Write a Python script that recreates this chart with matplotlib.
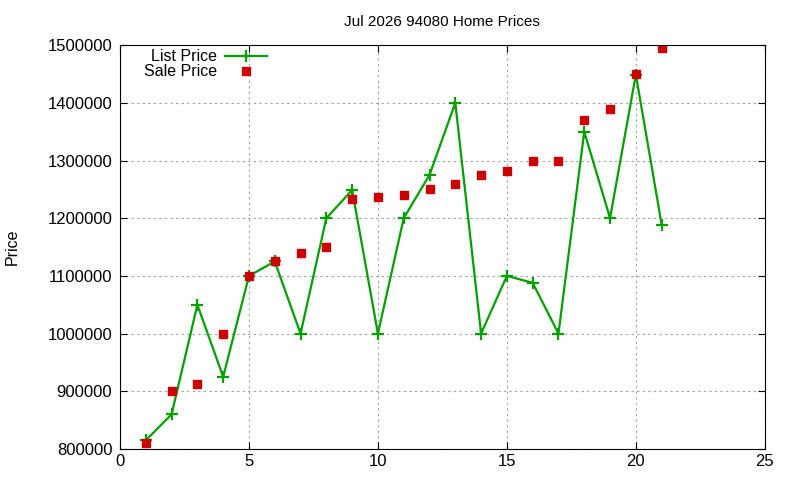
import numpy as np
import matplotlib
matplotlib.use('Agg')
import matplotlib.pyplot as plt

# months (index) and prices
idx = [1, 2, 3, 4, 5, 6, 7, 8, 9, 10, 11, 12, 13, 14, 15, 16, 17, 18, 19, 20, 21]
list_price = [815000, 860000, 1050000, 925000, 1100000, 1125000, 1000000, 1200000,
              1249000, 1000000, 1200000, 1275000, 1400000, 1000000, 1100000, 1088000,
              1000000, 1350000, 1200000, 1449000, 1189000]
sale_price = [810000, 900000, 912000, 1000000, 1100000, 1125000, 1140000, 1150000,
              1233000, 1237000, 1240000, 1251000, 1260000, 1275000, 1282000, 1300000,
              1300000, 1370000, 1390000, 1450000, 1495000]

plt.rcParams['font.family'] = ['Liberation Sans', 'DejaVu Sans']
plt.rcParams['font.size'] = 11

fig = plt.figure(figsize=(8, 4.8), dpi=100)
ax = fig.add_axes([0.15, 0.0646, 0.806, 0.8414])

ax.plot(idx, list_price, color='#00a000', lw=1.6, marker='+', ms=8, mew=1.6,
        label='List Price')
ax.plot(idx, sale_price, color='#cc0000', ls='none', marker='s', ms=6,
        label='Sale Price')

ax.set_xlim(0, 25)
ax.set_ylim(800000, 1500000)
ax.set_xticks([0, 5, 10, 15, 20, 25])
ax.set_yticks(np.arange(800000, 1500001, 100000))
ax.yaxis.set_major_formatter(matplotlib.ticker.FuncFormatter(lambda v, p: '%d' % v))
ax.tick_params(direction='in', top=True, right=True, length=5, labelsize=12)
ax.tick_params(axis='y', pad=5.5)
ax.grid(True, color='#a0a0a0', ls=(0, (2, 3)), lw=0.8)

ax.set_title('Jul 2026 94080 Home Prices', fontsize=11, pad=14)
ax.set_ylabel('Price', fontsize=11.5, labelpad=20)

ax.legend(loc='upper left', bbox_to_anchor=(0.02, 1.017), frameon=False,
          markerfirst=False, fontsize=11.5, handlelength=2.6,
          handletextpad=0.5, borderaxespad=0.3, labelspacing=0.0)

fig.savefig('out.png', dpi=100)
